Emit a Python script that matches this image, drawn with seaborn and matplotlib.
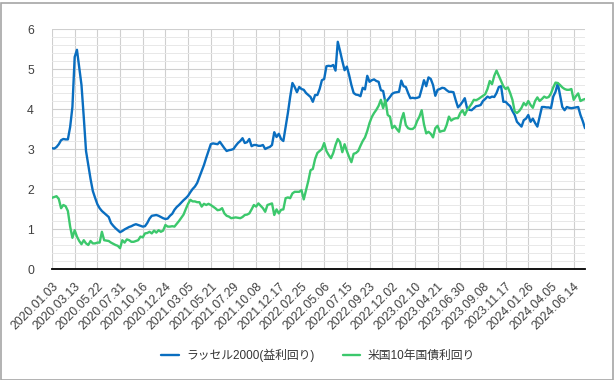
import numpy as np
import pandas as pd
import matplotlib
matplotlib.use("Agg")
import matplotlib.pyplot as plt
from matplotlib.patches import Rectangle
from matplotlib.ticker import MultipleLocator
from matplotlib.transforms import ScaledTranslation
import seaborn as sns

tick_labels = ["2020.01.03", "2020.03.13", "2020.05.22", "2020.07.31", "2020.10.16",
               "2020.12.24", "2021.03.05", "2021.05.21", "2021.07.29", "2021.10.08",
               "2021.12.17", "2022.02.25", "2022.05.06", "2022.07.15", "2022.09.23",
               "2022.12.02", "2023.02.10", "2023.04.21", "2023.06.30", "2023.09.08",
               "2023.11.17", "2024.01.26", "2024.04.05", "2024.06.14"]

russell_yield = [
    3.02, 3.01, 3.05, 3.12, 3.22, 3.25, 3.24, 3.24, 3.55, 4.05,
    5.30, 5.48, 5.05, 4.60, 3.80, 2.95, 2.60, 2.25, 1.95, 1.78,
    1.62, 1.52, 1.45, 1.40, 1.35, 1.30, 1.15, 1.08, 1.02, 0.97,
    0.92, 0.95, 0.99, 1.02, 1.05, 1.07, 1.10, 1.12, 1.10, 1.08,
    1.06, 1.07, 1.15, 1.26, 1.33, 1.34, 1.35, 1.33, 1.30, 1.27,
    1.25, 1.26, 1.33, 1.38, 1.48, 1.55, 1.60, 1.66, 1.72, 1.77,
    1.83, 1.92, 2.00, 2.06, 2.15, 2.30, 2.45, 2.60, 2.78, 2.95,
    3.12, 3.14, 3.13, 3.12, 3.18, 3.10, 3.02, 2.95, 2.97, 2.98,
    3.00, 3.08, 3.15, 3.20, 3.27, 3.15, 3.17, 3.25, 3.07, 3.10,
    3.10, 3.08, 3.08, 3.10, 3.00, 3.03, 3.05, 3.10, 3.42, 3.30,
    3.38, 3.25, 3.20, 3.55, 3.90, 4.30, 4.65, 4.55, 4.42, 4.55,
    4.50, 4.48, 4.40, 4.35, 4.30, 4.18, 4.35, 4.35, 4.50, 4.72,
    4.75, 5.07, 5.08, 5.07, 5.10, 4.96, 5.68, 5.45, 5.20, 4.97,
    5.06, 4.85, 4.60, 4.40, 4.36, 4.35, 4.32, 4.53, 4.49, 4.83,
    4.68, 4.72, 4.74, 4.70, 4.68, 4.47, 4.45, 4.16, 4.23, 4.30,
    4.38, 4.41, 4.42, 4.43, 4.71, 4.57, 4.55, 4.40, 4.27, 4.28,
    4.27, 4.28, 4.30, 4.50, 4.72, 4.57, 4.79, 4.75, 4.60, 4.33,
    4.48, 4.50, 4.53, 4.52, 4.47, 4.43, 4.43, 4.42, 4.22, 4.04,
    4.10, 4.18, 4.27, 4.02, 3.98, 3.97, 4.02, 4.07, 4.08, 4.10,
    4.20, 4.25, 4.31, 4.28, 4.31, 4.30, 4.40, 4.55, 4.57, 4.18,
    4.18, 4.12, 4.07, 3.95, 3.85, 3.68, 3.62, 3.56, 3.72, 3.76,
    3.85, 3.68, 3.76, 3.65, 3.56, 3.80, 4.05, 4.05, 4.04, 4.04,
    4.02, 4.31, 4.43, 4.64, 4.35, 4.05, 3.97, 4.05, 4.03, 4.02,
    4.03, 4.04, 4.05, 3.85, 3.70, 3.52,
]

us10y_yield = [
    1.78, 1.80, 1.82, 1.75, 1.52, 1.60, 1.57, 1.45, 1.06, 0.78,
    0.97, 0.81, 0.70, 0.62, 0.72, 0.64, 0.60, 0.70, 0.64, 0.64,
    0.66, 0.66, 0.93, 0.72, 0.71, 0.70, 0.66, 0.63, 0.60, 0.58,
    0.52, 0.72, 0.66, 0.74, 0.72, 0.68, 0.68, 0.70, 0.72, 0.81,
    0.79, 0.89, 0.90, 0.93, 0.89, 0.96, 0.91, 0.97, 0.93, 0.96,
    1.10, 1.06, 1.06, 1.07, 1.06, 1.13, 1.20, 1.28, 1.36, 1.50,
    1.63, 1.73, 1.69, 1.69, 1.67, 1.67, 1.56, 1.63, 1.60, 1.63,
    1.60, 1.56, 1.52, 1.47, 1.48, 1.52, 1.39, 1.33, 1.31, 1.27,
    1.28, 1.29, 1.28, 1.27, 1.30, 1.35, 1.36, 1.39, 1.49, 1.60,
    1.56, 1.64, 1.58, 1.52, 1.43, 1.60, 1.62, 1.64, 1.35, 1.49,
    1.39, 1.48, 1.49, 1.77, 1.79, 1.77, 1.89, 1.93, 1.93, 1.93,
    1.97, 1.74, 1.97, 2.20, 2.47, 2.50, 2.75, 2.90, 2.95, 3.00,
    3.15, 2.95, 2.85, 2.77, 2.90, 3.10, 3.25, 3.17, 2.92, 3.12,
    2.95, 2.80, 2.67, 2.88, 2.90, 2.95, 3.08, 3.20, 3.29, 3.45,
    3.65, 3.80, 3.90, 3.98, 4.08, 4.23, 4.02, 4.23, 3.85, 3.81,
    3.52, 3.58, 3.50, 3.43, 3.73, 3.90, 3.60, 3.52, 3.50, 3.50,
    3.55, 3.70, 3.81, 3.97, 3.62, 3.39, 3.43, 3.38, 3.29, 3.52,
    3.58, 3.43, 3.45, 3.46, 3.60, 3.81, 3.71, 3.75, 3.77, 3.77,
    3.90, 3.97, 3.85, 3.97, 4.05, 4.13, 4.23, 4.22, 4.25, 4.29,
    4.33, 4.37, 4.50, 4.70, 4.62, 4.83, 4.96, 4.83, 4.70, 4.57,
    4.50, 4.54, 4.40, 4.23, 3.94, 3.90, 3.95, 4.03, 4.15, 4.09,
    4.20, 4.10, 4.03, 4.20, 4.29, 4.20, 4.25, 4.31, 4.28, 4.30,
    4.39, 4.54, 4.66, 4.65, 4.60, 4.54, 4.50, 4.48, 4.48, 4.50,
    4.23, 4.32, 4.39, 4.20, 4.23, 4.25,
]

series_names = ["ラッセル2000(益利回り)", "米国10年国債利回り"]
series_colors = ["#0a6ec0", "#3cc86c"]

n = len(russell_yield)
df = pd.DataFrame({
    "idx": list(range(n)) * 2,
    "value": russell_yield + us10y_yield,
    "series": [series_names[0]] * n + [series_names[1]] * n,
})

sns.set_theme(style="white")
plt.rcParams["font.family"] = ["Liberation Sans", "Noto Sans CJK JP", "DejaVu Sans"]

fig = plt.figure(figsize=(6.15, 3.80), dpi=100)
ax = fig.add_axes([52 / 615, 1 - 269 / 380, 533 / 615, 240 / 380])

sns.lineplot(data=df, x="idx", y="value", hue="series",
             palette=dict(zip(series_names, series_colors)),
             linewidth=1.7, ax=ax, legend=True)

ax.set_xlim(0, n - 1)
ax.set_ylim(0, 6)
ax.yaxis.set_major_locator(MultipleLocator(1))
ax.yaxis.set_minor_locator(MultipleLocator(0.2))
ax.set_xticks(range(0, 10 * len(tick_labels), 10))
ax.set_xticklabels(tick_labels, rotation=45, ha="right", va="top",
                   rotation_mode="anchor", fontsize=8.8, color="#404040")
offset = ScaledTranslation(0.035, 0, fig.dpi_scale_trans)
for lab in ax.get_xticklabels():
    lab.set_transform(lab.get_transform() + offset)
ax.tick_params(axis="y", labelsize=8.8, colors="#404040", length=0, pad=13)
ax.tick_params(axis="x", length=0, pad=8)
ax.set_xlabel("")
ax.set_ylabel("")

ax.grid(True, which="major", axis="both", color="#cfcfcf", linewidth=0.8)
ax.grid(True, which="minor", axis="y", color="#e8e8e8", linewidth=0.7)
ax.set_axisbelow(True)
for s in ["top", "right", "left"]:
    ax.spines[s].set_visible(False)
ax.spines["bottom"].set_color("#000000")
ax.spines["bottom"].set_linewidth(1.3)

leg = ax.legend(loc="center", bbox_to_anchor=(318 / 615, 1 - 355 / 380),
                bbox_transform=fig.transFigure, ncol=2, frameon=False,
                fontsize=8.5, handlelength=1.5, columnspacing=2.4,
                handletextpad=0.6)
for t in leg.get_texts():
    t.set_color("#333333")

fig.patches.append(Rectangle((0.5 / 615, 0.5 / 380), 1 - 3 / 615, 1 - 3 / 380,
                             transform=fig.transFigure, fill=False,
                             edgecolor="#a6a6a6", linewidth=1.2))

fig.savefig("out.png", dpi=100)
